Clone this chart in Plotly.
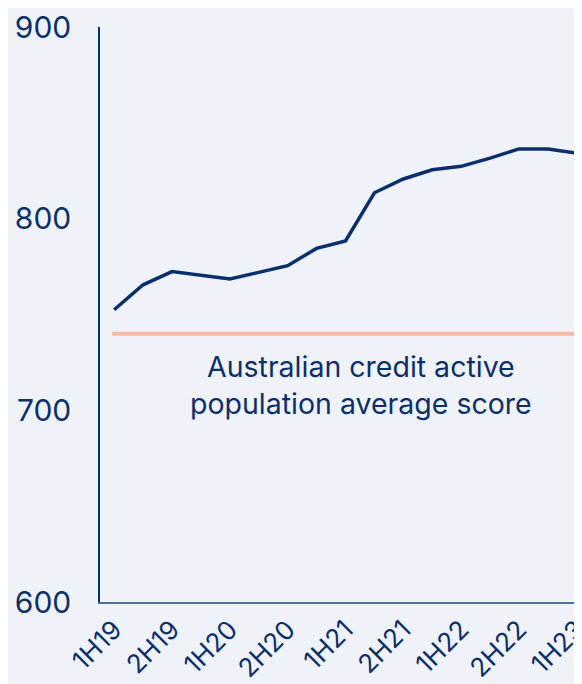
import plotly.graph_objects as go

periods = ["1H19", "", "2H19", "", "1H20", "", "2H20", "", "1H21", "", "2H21", "", "1H22", "", "2H22", "", "1H23"]
scores = [752.5, 765.5, 772.4, 770.5, 768.5, 772, 775.5, 784.5, 788.4, 813.5, 820.7, 825.5, 827.3, 831.6, 836.4, 836.4, 834.2]
population_avg = 740
avg_label = "Australian credit active<br>population average score"
y_ticks = [600, 700, 800, 900]

NAVY = "#0b2f6b"
BG = "#eff3f9"

idx = list(range(len(scores)))
tick_idx = [i for i, p in enumerate(periods) if p]
tick_txt = [p for p in periods if p]

fig = go.Figure()
fig.add_trace(go.Scatter(
    x=[-0.07, len(scores)], y=[population_avg, population_avg], mode="lines",
    line=dict(color="#f9b8a2", width=4), hoverinfo="skip", showlegend=False))
fig.add_trace(go.Scatter(
    x=idx, y=scores, mode="lines",
    line=dict(color=NAVY, width=3.5), showlegend=False))

fig.add_annotation(x=8.55, y=713, xref="x", yref="y", text=avg_label,
                   showarrow=False, font=dict(family="Inter", size=28.5, color=NAVY),
                   align="center")

fig.update_layout(
    width=582, height=684,
    margin=dict(l=92, r=0, t=15, b=90),
    paper_bgcolor=BG, plot_bgcolor=BG,
    font=dict(family="Inter", color=NAVY),
)
fig.update_xaxes(range=[-0.49, 16.35], tickvals=tick_idx, ticktext=tick_txt,
                 tickangle=-45, tickfont=dict(size=26, color=NAVY),
                 ticklabeloverflow="allow",
                 showgrid=False, zeroline=False, showline=True,
                 linecolor="#4f6f9f", linewidth=2, ticks="", fixedrange=True)
fig.update_yaxes(range=[600, 900], tickvals=y_ticks, tickfont=dict(size=30, color=NAVY),
                 ticklabeloverflow="allow",
                 showgrid=False, zeroline=False, showline=True,
                 linecolor=NAVY, linewidth=1.5, ticks="", ticklabelstandoff=21)

fig.write_html("out.html")
